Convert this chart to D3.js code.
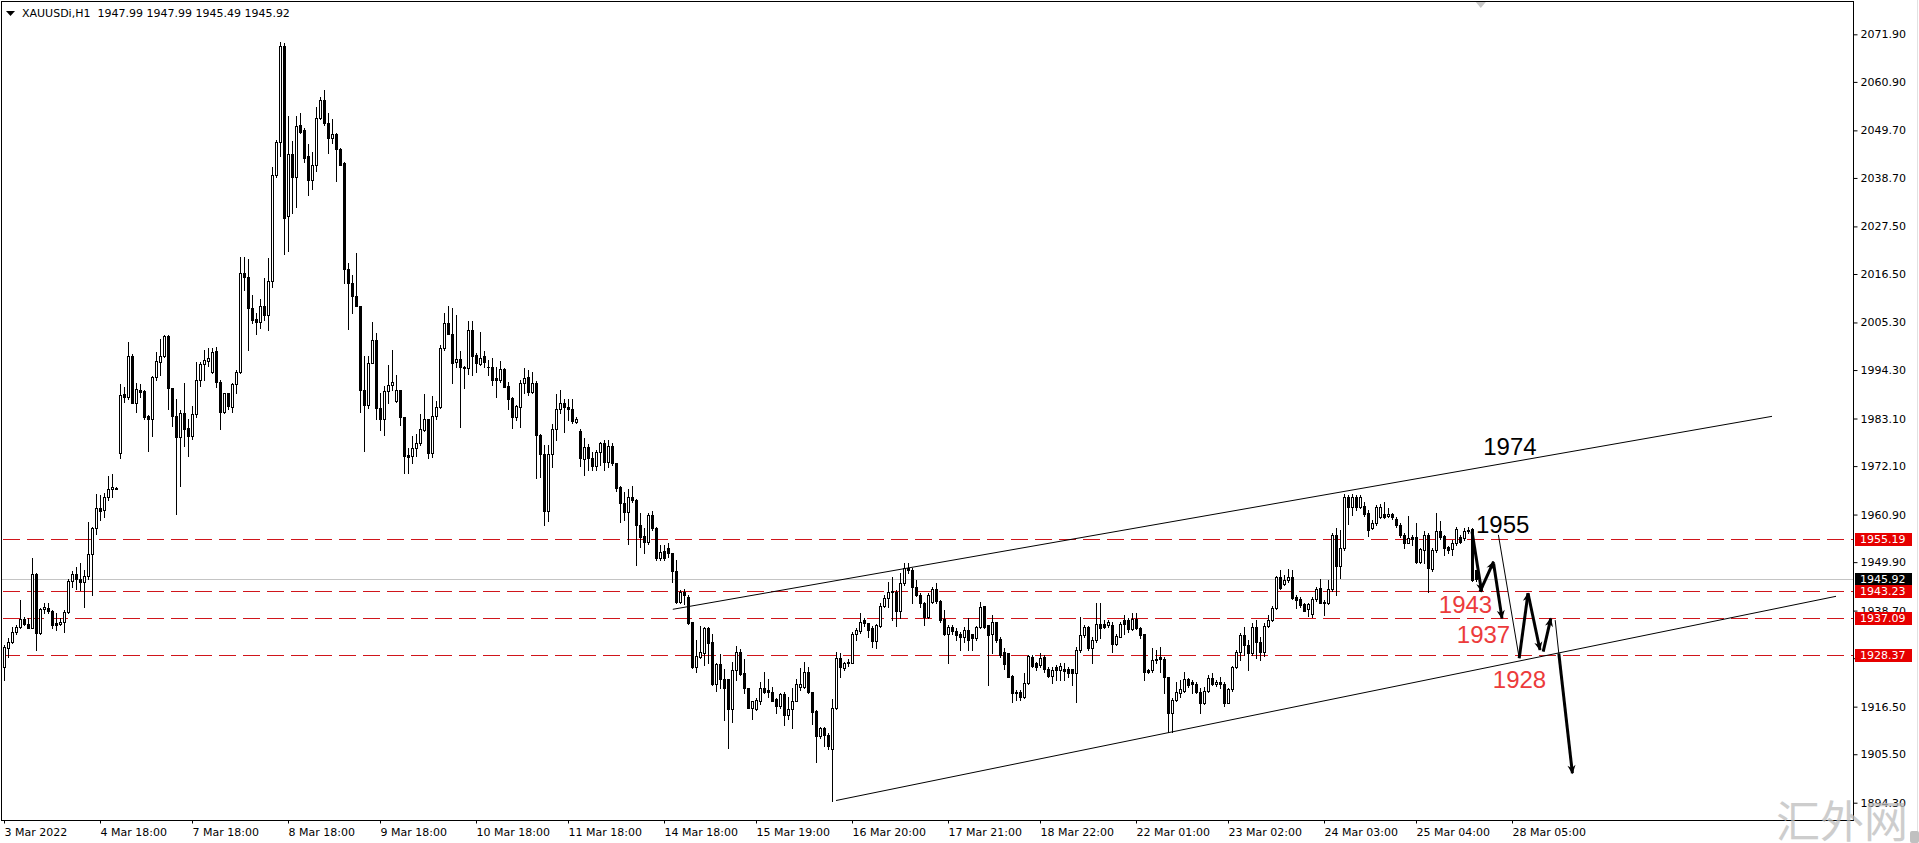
<!DOCTYPE html>
<html>
<head>
<meta charset="utf-8">
<script src="https://d3js.org/d3.v7.min.js"></script>
<style>
html, body { margin: 0; padding: 0; background: #fff; overflow: hidden; }
svg { display: block; }
.axis text { font-family: "DejaVu Sans", sans-serif; font-size: 11px; fill: #000; }
</style>
</head>
<body>
<div id="chart"></div>
<script>
let width = 1919;
let height = 843;
let plot = {left: 1, top: 1, right: 1853, bottom: 820};

// XAUUSDi H1 candles (3 Mar .. 25 Mar 2022)
let opens = [
1925.7,1930.0,1931.5,1933.8,1935.0,1936.7,1935.7,1934.6,1947.1,1933.6,
1939.0,1939.4,1938.7,1935.9,1935.7,1936.0,1938.4,1945.5,1947.1,1946.1,
1945.4,1946.7,1951.8,1957.7,1962.5,1961.9,1964.9,1966.7,1967.1,1975.2,
1988.7,1988.0,1997.6,1986.7,1989.8,1989.4,1983.7,1982.9,1992.8,1996.2,
1997.5,2002.2,1990.1,1983.7,1978.9,1984.3,1980.8,1979.1,1984.1,1992.1,
1995.7,1996.4,1993.8,1998.7,1991.6,1984.7,1988.9,1985.8,1991.1,1993.8,
2016.7,2015.9,2008.6,2006.0,2005.5,2009.1,2007.0,2014.9,2039.4,2046.9,
2069.2,2029.8,2044.2,2039.0,2050.9,2049.8,2043.8,2038.2,2041.7,2052.5,
2056.7,2051.3,2047.9,2048.8,2045.5,2042.2,2017.6,2014.5,2011.3,2009.1,
1989.7,1986.2,1996.0,2001.3,1985.6,1983.1,1989.5,1990.9,1987.2,1989.8,
1983.5,1974.7,1974.4,1976.2,1977.5,1980.4,1982.9,1975.2,1983.7,1985.7,
1999.3,2005.1,2002.6,1996.2,1996.8,1994.9,1994.7,2003.6,1997.8,1995.8,
1997.5,1995.1,1995.1,1992.4,1992.1,1994.5,1990.6,1987.9,1983.4,1985.8,
1991.2,1992.6,1989.3,1991.2,1979.4,1974.8,1961.7,1974.9,1980.6,1985.4,
1986.6,1985.8,1985.2,1982.4,1980.2,1973.7,1976.6,1973.9,1972.2,1975.3,
1977.4,1973.1,1976.7,1972.7,1967.3,1963.6,1961.4,1965.0,1964.3,1958.6,
1955.9,1954.6,1960.9,1957.9,1950.8,1952.5,1953.1,1951.9,1947.9,1940.8,
1942.9,1941.9,1936.0,1925.7,1927.9,1929.0,1934.6,1931.4,1921.7,1926.3,
1922.8,1922.8,1915.9,1925.0,1929.1,1924.2,1920.7,1916.3,1915.9,1917.7,
1920.7,1920.4,1920.0,1918.2,1916.7,1919.4,1914.6,1915.9,1917.9,1921.1,
1921.0,1924.4,1919.8,1915.5,1909.6,1911.5,1910.0,1906.6,1916.1,1927.7,
1925.4,1926.9,1926.7,1933.4,1934.1,1936.5,1935.8,1934.6,1931.7,1935.1,
1939.8,1941.5,1942.9,1943.1,1938.7,1945.0,1948.5,1948.1,1944.1,1942.3,
1940.4,1937.3,1940.7,1943.6,1940.9,1936.7,1933.4,1934.8,1934.0,1933.2,
1932.7,1934.2,1933.2,1932.3,1934.8,1939.7,1935.4,1933.2,1936.1,1932.1,
1929.2,1928.8,1923.6,1919.9,1919.9,1918.8,1921.9,1928.0,1926.5,1926.1,
1928.0,1925.3,1923.6,1925.7,1925.0,1925.3,1925.1,1925.1,1924.3,1929.6,
1933.0,1934.8,1930.0,1931.9,1935.7,1935.7,1935.4,1935.4,1931.0,1932.7,
1936.5,1936.5,1934.4,1936.7,1934.6,1933.2,1925.0,1925.0,1927.2,1927.9,
1927.6,1923.4,1915.0,1918.1,1919.6,1920.2,1922.9,1922.1,1921.7,1920.0,
1917.4,1920.2,1923.1,1921.8,1922.3,1921.8,1917.4,1920.5,1925.6,1929.2,
1933.1,1930.8,1928.8,1934.8,1931.5,1929.2,1935.2,1936.5,1939.4,1946.4,
1944.9,1945.8,1946.4,1941.8,1941.3,1940.2,1939.0,1937.9,1941.3,1943.9,
1940.8,1940.4,1943.6,1956.2,1948.9,1953.1,1964.9,1962.7,1965.0,1962.7,
1962.9,1961.2,1957.7,1959.0,1960.4,1961.0,1960.6,1961.0,1959.8,1958.5,
1956.2,1954.4,1955.8,1955.6,1950.0,1952.7,1956.2,1948.3,1952.7,1957.0,
1956.0,1953.5,1952.9,1954.4,1955.6,1955.4,1957.3,1957.5,1947.99];

let highs = [
1930.7,1932.3,1935.0,1935.4,1941.1,1937.3,1937.1,1950.9,1947.3,1939.2,
1940.4,1940.4,1938.8,1938.1,1936.9,1938.8,1946.0,1947.9,1948.8,1949.8,
1948.1,1959.1,1958.1,1965.6,1965.4,1965.8,1969.8,1970.2,1967.3,1991.1,
1990.3,2000.8,1998.0,1991.2,1991.1,1989.7,1983.9,1993.0,1998.5,2001.4,
2002.4,2002.4,1990.1,1987.7,1985.1,1991.2,1983.1,1986.0,1996.2,1996.2,
1998.9,1999.3,1999.3,1999.7,1992.0,1989.1,1989.1,1991.4,1994.3,2020.5,
2020.5,2019.9,2011.7,2007.4,2010.7,2015.5,2020.1,2041.3,2047.5,2070.2,
2069.8,2053.0,2047.2,2053.0,2053.8,2050.2,2046.6,2044.8,2055.0,2057.5,
2059.0,2053.6,2052.3,2049.2,2045.6,2042.3,2019.0,2016.3,2021.4,2009.2,
1997.6,1997.6,2005.3,2002.9,1988.9,1990.6,1995.5,1998.9,1993.2,1989.8,
1983.5,1976.2,1979.1,1979.5,1984.1,1988.8,1983.1,1988.2,1987.2,2000.1,
2007.6,2009.0,2008.6,2007.0,1998.8,1995.2,2005.7,2005.7,1998.2,2003.2,
1998.7,1996.6,1997.0,1995.1,1996.4,1994.7,1991.6,1988.1,1986.2,1992.0,
1994.7,1994.3,1993.9,1991.8,1979.5,1977.0,1977.0,1981.8,1988.8,1989.8,
1987.5,1987.7,1987.5,1983.5,1980.6,1978.7,1977.1,1975.4,1975.8,1977.6,
1978.1,1978.1,1977.4,1972.9,1967.6,1966.2,1966.9,1967.6,1964.6,1961.2,
1957.7,1961.2,1961.7,1958.1,1953.9,1953.9,1954.4,1952.1,1950.4,1943.5,
1943.6,1942.3,1936.1,1931.9,1935.1,1935.0,1935.0,1933.4,1926.7,1928.7,
1925.1,1923.0,1926.9,1930.5,1929.8,1927.5,1920.7,1917.8,1918.4,1922.3,
1924.4,1923.0,1921.0,1918.4,1919.7,1920.0,1918.8,1920.7,1923.0,1925.4,
1926.9,1925.7,1920.0,1915.7,1911.9,1911.9,1910.4,1918.2,1929.2,1928.8,
1926.9,1927.4,1933.8,1934.6,1938.1,1937.1,1935.8,1935.1,1935.7,1940.4,
1942.3,1945.4,1946.5,1943.5,1947.3,1949.6,1949.6,1948.5,1945.8,1942.7,
1940.7,1942.7,1944.2,1945.1,1941.2,1938.9,1935.4,1935.4,1934.6,1933.8,
1934.8,1936.9,1933.4,1935.1,1940.7,1939.8,1935.4,1937.7,1936.1,1932.7,
1930.0,1929.0,1923.8,1920.3,1920.3,1924.2,1928.4,1928.4,1926.9,1928.8,
1928.4,1925.7,1925.7,1926.1,1926.5,1926.5,1925.7,1925.3,1930.3,1937.3,
1935.4,1935.1,1932.7,1940.4,1940.4,1936.5,1936.5,1936.1,1933.4,1936.1,
1937.7,1936.9,1938.1,1938.1,1934.8,1933.4,1925.3,1930.0,1929.6,1930.3,
1928.0,1923.4,1918.4,1922.3,1922.7,1924.6,1923.1,1922.7,1922.1,1920.7,
1921.1,1923.8,1924.2,1922.7,1923.4,1922.3,1920.7,1925.9,1929.6,1933.6,
1934.8,1931.9,1935.8,1936.5,1932.7,1935.8,1937.7,1939.8,1946.7,1948.1,
1946.9,1948.3,1948.1,1942.3,1941.9,1940.5,1940.5,1941.8,1944.1,1945.9,
1941.2,1945.8,1956.6,1957.7,1957.3,1965.7,1965.4,1965.7,1965.4,1965.4,
1963.9,1962.0,1959.7,1963.1,1963.4,1963.9,1962.4,1961.2,1960.4,1958.9,
1956.6,1960.6,1956.2,1958.9,1953.1,1957.0,1956.6,1953.1,1961.3,1959.3,
1956.2,1953.6,1955.0,1958.1,1956.2,1957.7,1958.1,1957.7,1947.99];

let lows = [
1922.7,1928.0,1931.1,1933.4,1934.6,1935.4,1934.6,1934.6,1929.6,1933.4,
1938.1,1938.1,1934.6,1934.2,1935.4,1933.8,1938.1,1944.2,1943.8,1943.5,
1939.6,1946.1,1942.3,1956.5,1959.6,1960.4,1964.3,1965.0,1966.9,1973.9,
1986.8,1987.5,1986.6,1984.7,1988.1,1982.9,1975.7,1979.0,1992.0,1993.1,
1997.4,1985.4,1981.4,1961.0,1967.6,1976.8,1974.5,1978.3,1983.5,1990.6,
1992.1,1995.2,1993.7,1990.4,1980.7,1984.3,1985.4,1984.7,1988.9,1993.7,
2012.8,1998.9,2005.1,2002.6,2004.1,2005.9,2003.6,2013.6,2039.0,2043.8,
2021.1,2021.8,2030.5,2032.1,2049.0,2042.5,2034.8,2036.1,2040.2,2052.3,
2050.9,2044.5,2046.7,2038.1,2041.7,2014.5,2003.9,2007.6,2009.0,1984.7,
1975.7,1985.5,1995.9,1983.1,1980.4,1979.3,1986.6,1989.7,1986.8,1981.6,
1970.4,1970.6,1972.7,1974.4,1977.0,1980.1,1973.9,1974.3,1983.1,1985.5,
1998.9,2002.6,1991.4,1995.1,1981.2,1990.1,1993.5,1993.2,1993.9,1995.5,
1994.9,1993.1,1990.8,1988.0,1991.6,1990.3,1985.4,1980.8,1982.7,1981.2,
1989.1,1988.5,1988.9,1969.3,1969.6,1958.5,1959.5,1972.0,1978.1,1984.3,
1980.0,1982.7,1982.0,1982.1,1972.1,1970.0,1971.3,1971.2,1971.2,1972.3,
1971.2,1972.0,1972.3,1966.4,1959.2,1959.6,1954.2,1963.9,1949.2,1953.5,
1952.1,1954.2,1957.3,1950.4,1950.4,1950.4,1951.2,1945.4,1940.5,1940.5,
1940.2,1935.6,1925.4,1924.6,1927.7,1926.1,1926.5,1921.5,1920.1,1920.7,
1913.4,1906.9,1913.0,1922.7,1923.8,1919.6,1916.1,1913.6,1915.7,1917.1,
1919.7,1918.8,1917.7,1915.0,1916.3,1912.3,1913.6,1911.5,1917.7,1920.4,
1920.7,1919.6,1912.6,1903.6,1909.2,1907.3,1906.6,1894.8,1915.9,1923.4,
1925.0,1925.9,1926.5,1932.0,1933.6,1935.1,1932.7,1930.3,1930.0,1934.8,
1939.6,1939.6,1936.5,1935.1,1936.9,1944.6,1947.3,1940.4,1942.0,1939.6,
1935.4,1936.9,1940.4,1940.4,1936.1,1933.0,1926.5,1933.4,1931.9,1929.6,
1931.5,1929.6,1929.6,1931.9,1934.6,1934.6,1921.5,1928.8,1931.5,1928.0,
1925.3,1923.3,1917.6,1918.0,1918.0,1918.4,1921.7,1925.7,1925.0,1925.7,
1924.6,1923.4,1921.9,1922.6,1922.6,1922.6,1923.4,1921.5,1917.6,1929.2,
1932.7,1929.6,1926.6,1931.5,1932.3,1934.6,1934.8,1929.2,1930.7,1932.5,
1933.4,1933.8,1934.2,1934.4,1932.3,1922.6,1924.2,1924.6,1926.5,1924.6,
1919.6,1910.7,1910.7,1917.7,1918.8,1920.0,1921.1,1919.6,1919.6,1915.1,
1917.1,1920.0,1921.5,1921.3,1920.7,1916.7,1917.3,1920.2,1925.4,1927.3,
1928.5,1925.0,1928.5,1927.7,1927.3,1928.1,1935.0,1936.4,1939.0,1943.6,
1944.6,1945.4,1941.3,1939.2,1939.6,1938.5,1937.5,1937.3,1941.0,1940.4,
1937.7,1940.2,1943.3,1942.3,1946.2,1952.7,1958.7,1960.8,1962.0,1962.4,
1960.6,1956.0,1957.5,1958.5,1960.0,1960.0,1960.3,1959.8,1958.1,1955.8,
1953.1,1954.3,1953.9,1949.6,1949.6,1949.8,1943.1,1947.9,1952.3,1955.2,
1951.6,1952.0,1951.6,1953.9,1954.3,1955.0,1956.6,1945.6,1945.49];

let closes = [
1930.4,1931.5,1933.8,1935.0,1936.7,1935.7,1934.6,1947.1,1933.6,1939.0,
1939.6,1938.7,1935.4,1935.4,1936.1,1938.4,1945.5,1947.1,1946.1,1945.4,
1946.7,1951.8,1957.7,1962.5,1961.7,1964.9,1966.7,1967.3,1966.9,1988.5,
1988.0,1997.6,1986.7,1989.9,1989.3,1983.5,1982.9,1992.8,1996.4,1997.5,
2002.2,1990.1,1983.7,1978.9,1984.3,1980.6,1979.1,1984.1,1992.1,1995.7,
1996.6,1997.1,1998.5,1991.6,1984.7,1988.9,1986.0,1991.1,1993.8,2016.7,
2015.9,2008.6,2005.9,2005.4,2009.1,2007.0,2014.9,2039.4,2047.1,2069.2,
2029.5,2044.2,2039.0,2050.7,2049.4,2043.4,2038.2,2041.7,2052.5,2056.7,
2051.3,2047.9,2048.8,2045.5,2041.7,2017.6,2014.5,2011.3,2009.0,1989.7,
1986.2,1996.0,2001.3,1985.5,1983.1,1989.5,1990.9,1991.6,1989.8,1983.5,
1974.4,1974.3,1976.2,1977.5,1980.6,1982.9,1975.2,1983.7,1985.7,1999.3,
2005.1,2002.6,1996.0,1996.8,1994.9,1994.7,2003.6,1997.6,1995.9,1997.2,
1996.2,1994.9,1992.1,1992.1,1994.5,1990.4,1987.7,1983.4,1986.0,1991.4,
1992.5,1989.3,1991.2,1979.4,1974.8,1961.7,1974.9,1980.6,1985.4,1986.6,
1985.8,1985.2,1982.6,1983.1,1973.9,1976.6,1973.9,1972.2,1975.3,1977.4,
1973.1,1976.7,1972.7,1967.1,1963.5,1961.4,1965.0,1964.3,1958.6,1955.8,
1954.6,1960.9,1957.7,1950.8,1952.3,1950.8,1951.9,1947.9,1940.8,1942.9,
1942.3,1935.9,1925.6,1928.2,1929.1,1934.6,1931.3,1921.7,1926.3,1922.8,
1920.7,1915.9,1925.0,1929.1,1924.1,1920.7,1916.3,1917.7,1918.0,1920.7,
1920.0,1920.0,1917.9,1916.7,1919.4,1914.6,1915.9,1917.9,1921.7,1921.7,
1924.4,1919.8,1915.3,1909.6,1911.5,1910.0,1907.4,1916.1,1927.7,1925.7,
1926.5,1926.7,1933.4,1934.2,1936.1,1935.9,1934.2,1931.7,1935.4,1939.8,
1941.5,1942.9,1943.2,1938.7,1945.0,1948.5,1948.1,1944.1,1942.3,1940.4,
1937.3,1942.3,1943.8,1940.9,1936.5,1933.4,1934.8,1934.0,1933.0,1932.7,
1934.2,1931.9,1932.3,1934.8,1939.6,1934.8,1933.0,1936.1,1931.9,1928.4,
1926.3,1923.4,1919.7,1919.7,1918.8,1921.9,1928.2,1925.9,1925.7,1927.8,
1925.1,1923.6,1925.0,1925.0,1925.9,1924.8,1924.2,1924.3,1929.6,1933.0,
1934.8,1930.0,1932.0,1935.7,1934.6,1935.0,1936.0,1931.0,1932.8,1935.7,
1935.6,1934.4,1936.7,1934.6,1933.0,1924.6,1924.6,1927.3,1927.6,1927.4,
1923.4,1915.0,1918.1,1920.0,1920.5,1922.9,1921.5,1921.7,1920.0,1917.4,
1920.2,1923.1,1921.8,1922.3,1921.8,1917.4,1920.5,1925.6,1929.2,1933.1,
1930.8,1928.8,1934.8,1931.5,1929.2,1935.2,1936.5,1939.4,1946.4,1943.9,
1945.8,1946.4,1941.5,1941.2,1940.0,1938.7,1940.2,1941.3,1943.6,1940.5,
1940.4,1943.6,1956.2,1948.9,1953.1,1964.9,1962.7,1964.9,1962.7,1964.9,
1961.0,1957.3,1959.0,1962.6,1962.7,1960.4,1961.0,1960.4,1958.5,1956.2,
1954.4,1955.4,1955.2,1950.0,1952.9,1956.2,1948.5,1952.7,1957.0,1955.6,
1953.1,1952.7,1954.4,1957.5,1954.6,1957.2,1957.0,1945.8,1945.92];

// time axis: label text and the bar each one sits on
let timeLabels = ["3 Mar 2022", "4 Mar 18:00", "7 Mar 18:00", "8 Mar 18:00", "9 Mar 18:00",
    "10 Mar 18:00", "11 Mar 18:00", "14 Mar 18:00", "15 Mar 19:00", "16 Mar 20:00",
    "17 Mar 21:00", "18 Mar 22:00", "22 Mar 01:00", "23 Mar 02:00", "24 Mar 03:00",
    "25 Mar 04:00", "28 Mar 05:00"];
let timeLabelBars = [0, 24, 47, 71, 94, 118, 141, 165, 188, 212, 236, 259, 283, 306, 330, 353, 377];

let priceTicks = [2071.90, 2060.90, 2049.70, 2038.70, 2027.50, 2016.50, 2005.30, 1994.30,
    1983.10, 1972.10, 1960.90, 1949.90, 1938.70, 1927.70, 1916.50, 1905.50, 1894.30];

// horizontal levels and bid
let levels = [1955.19, 1943.23, 1937.09, 1928.37];
let bid = 1945.92;
let header = "XAUUSDi,H1  1947.99 1947.99 1945.49 1945.92";

// channel lines [bar, price]
let channelUpper = [[167.2, 1939.0], [442, 1983.6]];
let channelLower = [[208, 1894.8], [458, 1942.0]];

// projected path: thick arrows and thin guide lines [bar0, price0, bar1, price1]
let arrowSegs = [
    [367.0, 1957.0, 369.4, 1943.1],
    [369.0, 1943.1, 372.4, 1950.0],
    [372.4, 1949.6, 374.5, 1936.9],
    [378.8, 1927.7, 381.0, 1942.7],
    [381.0, 1942.7, 384.0, 1929.6],
    [384.8, 1929.2, 386.7, 1936.9],
    [388.7, 1928.8, 392.1, 1901.1]
];
let guideSegs = [
    [373.6, 1956.2, 378.8, 1927.7],
    [387.8, 1936.5, 388.7, 1928.8]
];

// text notes [text, bar, price(baseline), colour]
let notes = [
    ["1974", 369.8, 1974.7, "#000"],
    ["1955", 368.0, 1956.6, "#000"],
    ["1943", 358.7, 1938.2, "#ec3b3b"],
    ["1937", 363.2, 1931.2, "#ec3b3b"],
    ["1928", 372.2, 1920.8, "#ec3b3b"]
];

let svg = d3.select("#chart").append("svg")
    .attr("width", width)
    .attr("height", height);

// one bar = 4px
let x = d3.scaleLinear().domain([0, 462]).range([4, 1852]);
let y = d3.scaleLinear().domain([1890.3, 2079.6]).range([plot.bottom, plot.top]);

let bars = opens.map((o, i) => ({i: i, o: o, h: highs[i], l: lows[i], c: closes[i]}));

// level lines
let py = v => Math.round(y(v)) + 0.5;

svg.append("line")
    .attr("x1", plot.left).attr("x2", plot.right)
    .attr("y1", py(bid)).attr("y2", py(bid))
    .attr("stroke", "#c4c4c4");

svg.append("g").selectAll("line")
    .data(levels)
    .join("line")
    .attr("x1", plot.left + 2).attr("x2", plot.right)
    .attr("y1", d => py(d)).attr("y2", d => py(d))
    .attr("stroke", "#d0161c")
    .attr("stroke-dasharray", "17,7");

// candles
let cg = svg.append("g");
cg.selectAll("line")
    .data(bars)
    .join("line")
    .attr("x1", d => Math.round(x(d.i)) + 0.5)
    .attr("x2", d => Math.round(x(d.i)) + 0.5)
    .attr("y1", d => Math.round(y(d.h)))
    .attr("y2", d => Math.round(y(d.l)) + 1)
    .attr("stroke", "#000");

cg.selectAll("rect")
    .data(bars)
    .join("rect")
    .each(function(d) {
        let px = Math.round(x(d.i));
        let top = Math.round(y(Math.max(d.o, d.c)));
        let bot = Math.round(y(Math.min(d.o, d.c)));
        let r = d3.select(this);
        if (d.c > d.o && bot - top >= 2) {
            r.attr("x", px - 0.5).attr("y", top + 0.5)
             .attr("width", 2).attr("height", bot - top)
             .attr("fill", "#fff").attr("stroke", "#000");
        } else {
            r.attr("x", px - 1).attr("y", top)
             .attr("width", 3).attr("height", Math.max(1, bot - top + 1))
             .attr("fill", "#000");
        }
    });

// channel
let chLine = d3.line().x(d => x(d[0])).y(d => y(d[1]));
svg.append("g").selectAll("path")
    .data([channelUpper, channelLower])
    .join("path")
    .attr("d", chLine)
    .attr("fill", "none")
    .attr("stroke", "#000")
    .attr("stroke-width", 1);

// arrows
svg.append("defs").append("marker")
    .attr("id", "head")
    .attr("markerUnits", "userSpaceOnUse")
    .attr("viewBox", "0 -5 10 10")
    .attr("refX", 9).attr("refY", 0)
    .attr("markerWidth", 10).attr("markerHeight", 9)
    .attr("orient", "auto")
    .append("path")
    .attr("d", "M0,-4.5L10,0L0,4.5L3,0Z")
    .attr("fill", "#000");

svg.append("g").selectAll("line")
    .data(guideSegs)
    .join("line")
    .attr("x1", d => x(d[0])).attr("y1", d => y(d[1]))
    .attr("x2", d => x(d[2])).attr("y2", d => y(d[3]))
    .attr("stroke", "#000").attr("stroke-width", 1);

svg.append("g").selectAll("line")
    .data(arrowSegs)
    .join("line")
    .attr("x1", d => x(d[0])).attr("y1", d => y(d[1]))
    .attr("x2", d => x(d[2])).attr("y2", d => y(d[3]))
    .attr("stroke", "#000").attr("stroke-width", 3)
    .attr("marker-end", "url(#head)");

// notes
svg.append("g").selectAll("text")
    .data(notes)
    .join("text")
    .attr("x", d => x(d[1]))
    .attr("y", d => y(d[2]))
    .attr("fill", d => d[3])
    .style("font-family", "'Liberation Sans', Arial, sans-serif")
    .style("font-size", "24px")
    .text(d => d[0]);

// frame
svg.append("rect")
    .attr("x", 1.5).attr("y", 1.5)
    .attr("width", plot.right - 1).attr("height", plot.bottom - 1)
    .attr("fill", "none").attr("stroke", "#000");

// price axis
let yAxis = d3.axisRight(y)
    .tickValues(priceTicks)
    .tickFormat(d3.format(".2f"))
    .tickSize(4)
    .tickPadding(3);
svg.append("g")
    .attr("class", "axis")
    .attr("transform", "translate(" + (plot.right + 0.5) + ",0)")
    .call(yAxis)
    .call(g => g.select(".domain").remove());

// time axis
let xAxis = d3.axisBottom(x)
    .tickValues(timeLabelBars)
    .tickFormat((d, i) => timeLabels[i])
    .tickSize(3)
    .tickPadding(5);
svg.append("g")
    .attr("class", "axis")
    .attr("transform", "translate(0," + (plot.bottom + 0.5) + ")")
    .call(xAxis)
    .call(g => g.select(".domain").remove())
    .call(g => g.selectAll("text").attr("text-anchor", "start").attr("x", 0));

// price boxes on the axis
let boxes = levels.map(v => ({v: v, fill: "#e60000"})).concat([{v: bid, fill: "#000"}]);
boxes.sort((a, b) => a.fill === "#000" ? -1 : 1);
let bg = svg.append("g").selectAll("g")
    .data(boxes)
    .join("g")
    .attr("transform", d => "translate(" + (plot.right + 2) + "," + Math.round(y(d.v)) + ")");
bg.append("rect")
    .attr("x", 0).attr("y", -6)
    .attr("width", 57).attr("height", 13)
    .attr("fill", d => d.fill);
bg.append("text")
    .attr("x", 5).attr("y", 0.5)
    .attr("dy", "0.35em")
    .attr("fill", "#fff")
    .style("font-family", "'DejaVu Sans', sans-serif")
    .style("font-size", "11px")
    .text(d => d.v.toFixed(2));

// header
svg.append("path")
    .attr("d", "M6,11L15,11L10.5,16Z")
    .attr("fill", "#000");
svg.append("text")
    .attr("x", 22).attr("y", 17)
    .style("font-family", "'DejaVu Sans', sans-serif")
    .style("font-size", "11px")
    .style("white-space", "pre")
    .text(header);

// chart-shift marker
let sx = x(369.2);
svg.append("path")
    .attr("d", "M" + (sx - 5) + ",2L" + (sx + 5) + ",2L" + sx + ",8Z")
    .attr("fill", "#c8c8c8");

// window edge, scroll thumb and watermark
svg.append("line")
    .attr("x1", 1917.5).attr("x2", 1917.5).attr("y1", 0).attr("y2", height)
    .attr("stroke", "#e2e2e2");
svg.append("rect")
    .attr("x", 1910).attr("y", 831).attr("width", 9).attr("height", 12)
    .attr("rx", 2).attr("fill", "#c0c0c0");
svg.append("text")
    .attr("x", 1776).attr("y", 838)
    .attr("fill", "#bdbdbd")
    .attr("opacity", 0.75)
    .style("font-family", "'Noto Sans CJK SC', sans-serif")
    .style("font-size", "44px")
    .text("汇外网");
</script>
</body>
</html>
